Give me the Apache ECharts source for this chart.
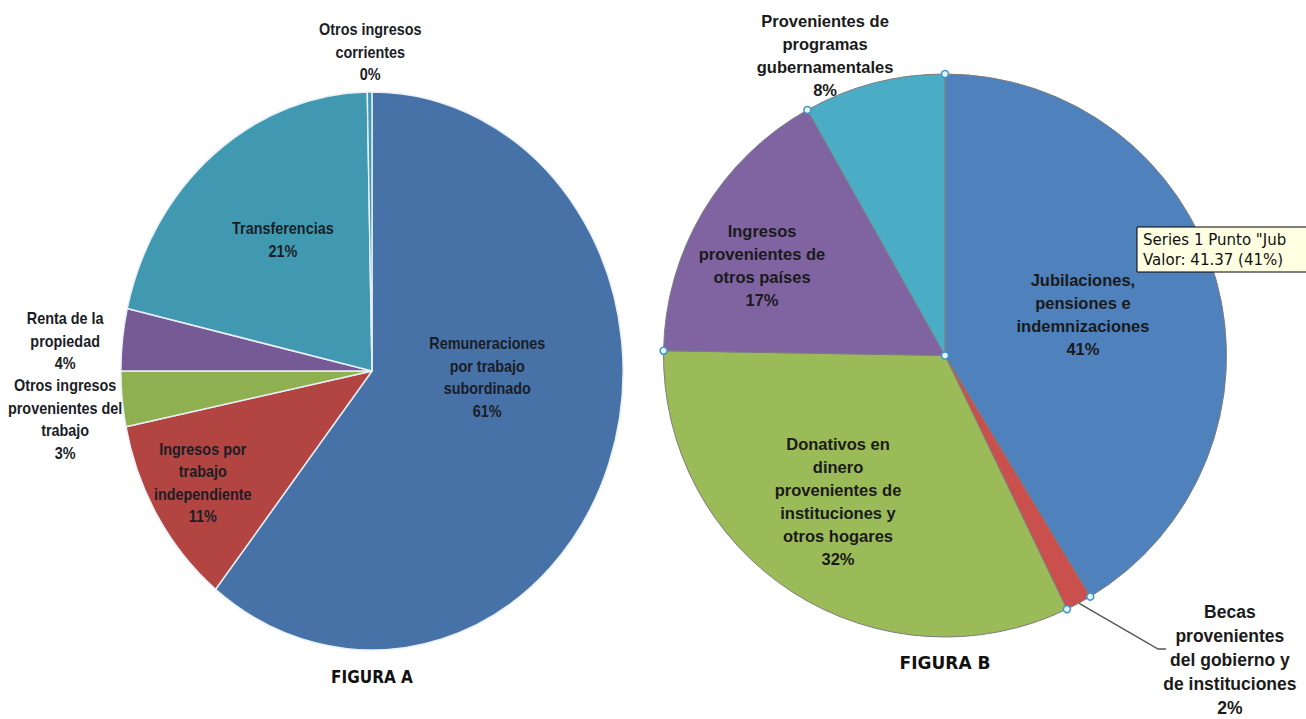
<!DOCTYPE html>
<html>
<head>
<meta charset="utf-8">
<script src="https://cdn.jsdelivr.net/npm/echarts@6/dist/echarts.min.js"></script>
<style>
  html, body { margin: 0; padding: 0; background: #ffffff; width: 1306px; height: 719px; overflow: hidden; }
  /* Figure A is drawn as a circle and narrowed horizontally into an ellipse */
  #figA { position: absolute; left: -100px; top: 0; width: 800px; height: 719px;
          transform: scaleX(0.9); transform-origin: 472px 0; }
  #figB { position: absolute; left: 640px; top: 0; width: 666px; height: 719px; }
</style>
</head>
<body>
<div id="figA"></div>
<div id="figB"></div>
<script>
// ---- Figura A: ingresos corrientes ----
const categoriesA = [
  'Remuneraciones\npor trabajo\nsubordinado',
  'Ingresos por\ntrabajo\nindependiente',
  'Otros ingresos\nprovenientes del\ntrabajo',
  'Renta de la\npropiedad',
  'Transferencias',
  'Otros ingresos\ncorrientes'
];
const valuesA = [60.7, 11.1, 3.2, 3.6, 21.1, 0.3];

// ---- Figura B: transferencias ----
const categoriesB = [
  'Jubilaciones,\npensiones e\nindemnizaciones',
  'Becas\nprovenientes\ndel gobierno y\nde instituciones',
  'Donativos en\ndinero\nprovenientes de\ninstituciones y\notros hogares',
  'Ingresos\nprovenientes de\notros países',
  'Provenientes de\nprogramas\ngubernamentales'
];
const valuesB = [41.37, 1.5, 32.4, 16.6, 8.13];

const titleA = 'FIGURA A';
const titleB = 'FIGURA B';

// ---- layout & style ----
const colorsA = ['#4672a8', '#b24541', '#8fb050', '#755a96', '#4099b1', '#4099b1'];
const colorsB = ['#4f81bd', '#c9504d', '#9bbb59', '#8064a2', '#4bacc6'];
const LABEL_FONT = "'Liberation Sans', Arial, sans-serif";
const TITLE_FONT = "'DejaVu Sans', sans-serif";
const TIP_FONT = "15px 'DejaVu Sans', sans-serif";

const A = { cx: 472, cy: 371, r: 279 };
const B = { cx: 305, cy: 355.5, r: 281.5 };

// label centres, as fractions of the radius from the pie centre
const anchorsA = [
  [0.459, 0.023], [-0.674, 0.401], [-1.222, 0.172],
  [-1.222, -0.108], [-0.355, -0.47], [-0.007, -1.143]
];
const anchorsB = [
  [0.49, -0.147], [1.012, 1.08], [-0.38, 0.517],
  [-0.65, -0.318], [-0.426, -1.067]
];
// leader line for the small "Becas" slice: elbow and end, fractions of the radius
const becasLeader = [[0.757, 1.043], [0.785, 1.043]];

function sliceAngles(values) {
  const total = values.reduce((s, v) => s + v, 0);
  let acc = 0;
  return values.map(v => {
    const a0 = acc / total * Math.PI * 2;
    acc += v;
    return [a0, acc / total * Math.PI * 2];
  });
}
function onEdge(p, ang) {
  return [p.cx + p.r * Math.sin(ang), p.cy - p.r * Math.cos(ang)];
}

function labelPlacer(p, anchors, leaderIndex, leader, angles) {
  return function (params) {
    const a = anchors[params.dataIndex];
    const out = {
      x: p.cx + a[0] * p.r,
      y: p.cy + a[1] * p.r,
      align: 'center',
      verticalAlign: 'middle'
    };
    if (params.dataIndex === leaderIndex) {
      const ang = angles[leaderIndex];
      out.labelLinePoints = [
        onEdge(p, (ang[0] + ang[1]) / 2),
        [p.cx + leader[0][0] * p.r, p.cy + leader[0][1] * p.r],
        [p.cx + leader[1][0] * p.r, p.cy + leader[1][1] * p.r]
      ];
    }
    return out;
  };
}

const anglesA = sliceAngles(valuesA);
const anglesB = sliceAngles(valuesB);

const chartA = echarts.init(document.getElementById('figA'), null, { renderer: 'svg' });
chartA.setOption({
  animation: false,
  graphic: [{
    type: 'text', x: A.cx, y: 677,
    style: { text: titleA, font: 'bold 17px ' + TITLE_FONT, fill: '#111', align: 'center', verticalAlign: 'middle' }
  }],
  series: [{
    type: 'pie',
    center: [A.cx, A.cy],
    radius: A.r,
    startAngle: 90,
    clockwise: true,
    avoidLabelOverlap: false,
    percentPrecision: 0,
    itemStyle: { borderColor: '#e9eff6', borderWidth: 1.6 },
    label: {
      position: 'inside',
      formatter: '{b}\n{d}%',
      fontFamily: LABEL_FONT, fontWeight: 'bold', fontSize: 16, lineHeight: 22.5,
      color: '#1b1d26', align: 'center'
    },
    labelLine: { show: false },
    emphasis: { disabled: true },
    labelLayout: labelPlacer(A, anchorsA, -1, null, anglesA),
    data: categoriesA.map((c, i) => ({ name: c, value: valuesA[i], itemStyle: { color: colorsA[i] } }))
  }]
});

// selection handles at the slice boundaries of Figura B
const handlesB = [[B.cx, B.cy]].concat(anglesB.map(a => onEdge(B, a[0])));

const chartB = echarts.init(document.getElementById('figB'), null, { renderer: 'svg' });
chartB.setOption({
  animation: false,
  graphic: [
    {
      type: 'text', x: B.cx, y: 662.5,
      style: { text: titleB, font: 'bold 17px ' + TITLE_FONT, fill: '#111', align: 'center', verticalAlign: 'middle' }
    },
    // hover box over the "Jubilaciones" slice
    {
      type: 'rect', z: 200, zlevel: 1,
      shape: { x: 497, y: 227, width: 190, height: 45 },
      style: { fill: '#ffffe1', stroke: '#000', lineWidth: 1 }
    },
    {
      type: 'text', z: 201, zlevel: 1, x: 503, y: 240,
      style: { text: 'Series 1 Punto "Jub', font: TIP_FONT, fill: '#111', verticalAlign: 'middle' }
    },
    {
      type: 'text', z: 201, zlevel: 1, x: 503, y: 260,
      style: { text: 'Valor: ' + valuesB[0] + ' (41%)', font: TIP_FONT, fill: '#111', verticalAlign: 'middle' }
    }
  ].concat(handlesB.map(h => ({
    type: 'circle', z: 150, zlevel: 1,
    shape: { cx: h[0], cy: h[1], r: 3.5 },
    style: { fill: '#e6f4fb', stroke: '#3d97cc', lineWidth: 1.5 }
  }))),
  series: [{
    type: 'pie',
    center: [B.cx, B.cy],
    radius: B.r,
    startAngle: 90,
    clockwise: true,
    avoidLabelOverlap: false,
    percentPrecision: 0,
    itemStyle: { borderColor: '#7d7d7d', borderWidth: 1 },
    label: {
      position: 'inside',
      formatter: '{b}\n{d}%',
      fontFamily: LABEL_FONT, fontWeight: 'bold', fontSize: 16.5, lineHeight: 23,
      color: '#1a1a1a', align: 'center'
    },
    labelLine: { show: false },
    emphasis: { disabled: true },
    labelLayout: labelPlacer(B, anchorsB, 1, becasLeader, anglesB),
    data: categoriesB.map((c, i) => {
      const item = { name: c, value: valuesB[i], itemStyle: { color: colorsB[i] } };
      if (i === 1) {
        item.label = { position: 'outside', fontSize: 17.5, lineHeight: 24 };
        item.labelLine = { show: true, length: 10, length2: 10, lineStyle: { color: '#555', width: 1.5 } };
      }
      return item;
    })
  }]
});
</script>
</body>
</html>
